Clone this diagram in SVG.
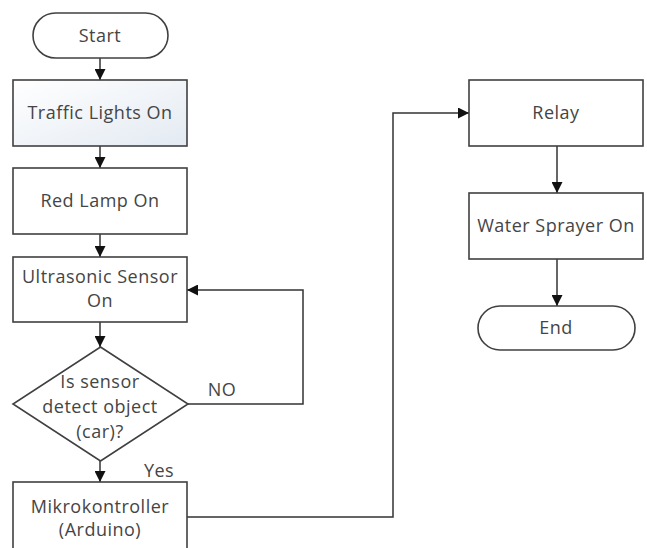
<svg xmlns="http://www.w3.org/2000/svg" width="647" height="548" viewBox="0 0 647 548">
<style>
.box{fill:#fff;stroke:#404040;stroke-width:1.6}
.t{font-family:"Open Sans","Liberation Sans",sans-serif;font-size:18px;letter-spacing:0.5px;fill:#454545;text-anchor:middle}
.c{fill:none;stroke:#333;stroke-width:1.5}
</style>
<defs>
<marker id="ah" viewBox="0 0 10 10" refX="10" refY="5" markerWidth="12" markerHeight="11" markerUnits="userSpaceOnUse" orient="auto">
<path d="M0,0 L10,5 L0,10 Z" fill="#111"/>
</marker>
<linearGradient id="g" x1="0" y1="0" x2="1" y2="1">
<stop offset="0" stop-color="#ffffff"/>
<stop offset="1" stop-color="#e3eaf2"/>
</linearGradient>
</defs>
<rect width="647" height="548" fill="#fff"/>
<g id="connectors">
<line class="c" x1="100" y1="58" x2="100" y2="80" marker-end="url(#ah)"/>
<line class="c" x1="100" y1="146" x2="100" y2="168" marker-end="url(#ah)"/>
<line class="c" x1="100" y1="234" x2="100" y2="257" marker-end="url(#ah)"/>
<line class="c" x1="100" y1="322" x2="100" y2="347" marker-end="url(#ah)"/>
<polyline class="c" points="188,404 303,404 303,290 187,290" marker-end="url(#ah)"/>
<line class="c" x1="100" y1="461" x2="100" y2="482" marker-end="url(#ah)"/>
<polyline class="c" points="187,517 393,517 393,113 469,113" marker-end="url(#ah)"/>
<line class="c" x1="557" y1="146" x2="557" y2="193" marker-end="url(#ah)"/>
<line class="c" x1="557" y1="259" x2="557" y2="306" marker-end="url(#ah)"/>
<text class="t" x="222" y="396">NO</text>
<text class="t" x="159" y="477">Yes</text>
</g>
<g id="start">
<rect class="box" x="33" y="13" width="135" height="45" rx="22.5"/>
<text class="t" x="100" y="42">Start</text>
</g>
<g id="traffic">
<rect class="box" x="13" y="80" width="174" height="66" style="fill:url(#g)"/>
<text class="t" x="100" y="119">Traffic Lights On</text>
</g>
<g id="red">
<rect class="box" x="13" y="168" width="174" height="66"/>
<text class="t" x="100" y="207">Red Lamp On</text>
</g>
<g id="ultra">
<rect class="box" x="13" y="257" width="174" height="65"/>
<text class="t" x="100" y="283">Ultrasonic Sensor</text>
<text class="t" x="100" y="307">On</text>
</g>
<g id="decision">
<polygon class="box" points="100.5,347 188,404 100.5,461 13,404"/>
<text class="t" x="100" y="388">Is sensor</text>
<text class="t" x="100" y="413">detect object</text>
<text class="t" x="100" y="438">(car)?</text>
</g>
<g id="mikro">
<rect class="box" x="13" y="482" width="174" height="80"/>
<text class="t" x="100" y="513">Mikrokontroller</text>
<text class="t" x="100" y="536">(Arduino)</text>
</g>
<g id="relay">
<rect class="box" x="469" y="80" width="174" height="66"/>
<text class="t" x="556" y="119">Relay</text>
</g>
<g id="sprayer">
<rect class="box" x="469" y="193" width="174" height="66"/>
<text class="t" x="556" y="232">Water Sprayer On</text>
</g>
<g id="end">
<rect class="box" x="478" y="306" width="157" height="44" rx="22"/>
<text class="t" x="556" y="334">End</text>
</g>
</svg>
